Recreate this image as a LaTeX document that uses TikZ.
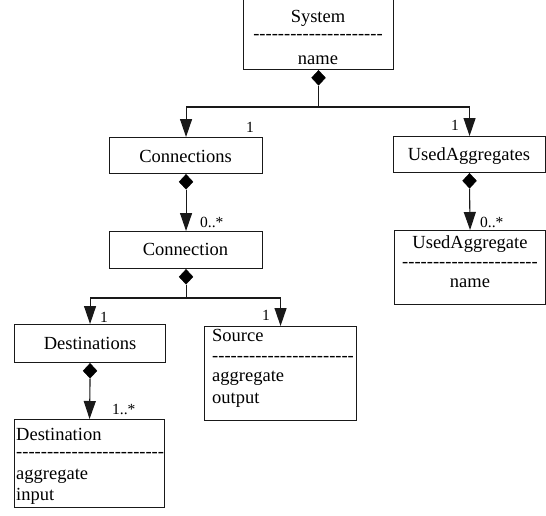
\documentclass[tikz,border=0pt]{standalone}
\usepackage{fontspec}
\setmainfont{Liberation Serif}
\usetikzlibrary{arrows.meta,shapes.geometric}
\newcommand{\hyrow}[1]{\foreach \k in {1,...,#1}{-\kern0pt}}
\begin{document}
\begin{tikzpicture}[x=1pt,y=-1pt,
  box/.style={draw=black!90, line width=1.1pt, inner sep=0pt, anchor=north west, fill=white},
  dia/.style={diamond, fill=black, draw=black, line width=0.4pt, inner sep=0pt, minimum width=14pt, minimum height=15pt, anchor=north},
  link/.style={draw=black!90, line width=1.1pt},
  arr/.style={link, -{Triangle[length=18pt,width=12pt]}},
  txt/.style={inner sep=0pt, font=\fontsize{18.5}{20}\selectfont, anchor=base},
  txtl/.style={txt, anchor=base west},
  lbl/.style={inner sep=0pt, font=\fontsize{15.5}{17}\selectfont, anchor=base},
  lbll/.style={lbl, anchor=base west}]
\useasboundingbox (0,0) rectangle (546,515);
\fill[white] (0,0) rectangle (546,515);
% boxes
\node[box, minimum width=150pt, minimum height=74pt] (sys) at (243,-5) {};
\node[box, minimum width=153pt, minimum height=36pt] (conns) at (109,137) {};
\node[box, minimum width=153pt, minimum height=37pt] (conn) at (109,231) {};
\node[box, minimum width=152pt, minimum height=36pt] (uaggs) at (393,136) {};
\node[box, minimum width=151pt, minimum height=74pt] (uagg) at (394,230) {};
\node[box, minimum width=151pt, minimum height=38pt] (dests) at (14,324) {};
\node[box, minimum width=152pt, minimum height=94pt] (src) at (204,326) {};
\node[box, minimum width=150pt, minimum height=88pt] (dest) at (14,419) {};
% diamonds
\node[dia] (dsys) at (sys.south) {};
\node[dia] (dconns) at (conns.south) {};
\node[dia] (dconn) at (conn.south) {};
\node[dia] (duaggs) at (uaggs.south) {};
\node[dia] (ddests) at (dests.south) {};
% junctions
\coordinate (j1) at (dsys.south |- 0,107);
\coordinate (j2) at (dconn.south |- 0,298);
% connectors
\draw[link] (dsys.south) -- (j1);
\draw[arr] (j1) -| (conns.north);
\draw[arr] (j1) -| (uaggs.north);
\draw[arr] (dconns.south) -- (conn.north);
\draw[arr] (duaggs.south) -- (uagg.north);
\draw[link] (dconn.south) -- (j2);
\draw[arr] (j2) -| (dests.north);
\draw[arr] (j2) -| (src.north);
\draw[arr] (ddests.south) -- (dest.north);
% texts
\node[txt] (t1) at (318,22) {System};
\node[txt] (t2) at (318,39.5) {\hyrow{21}};
\node[txt] (t3) at (318,64) {name};
\node[txt] (t4) at (185.5,162) {Connections};
\node[txt] (t5) at (185.5,255) {Connection};
\node[txt] (t6) at (469,160) {UsedAggregates};
\node[txt] (t7) at (470,248) {UsedAggregate};
\node[txt] (t8) at (470,267) {\hyrow{22}};
\node[txt] (t9) at (470,287) {name};
\node[txt] (t10) at (90,349) {Destinations};
\node[txtl] (t11) at (212,341) {Source};
\node[txtl] (t12) at (212,361.5) {\hyrow{23}};
\node[txtl] (t13) at (212,381.5) {aggregate};
\node[txtl] (t14) at (212,403) {output};
\node[txtl] (t15) at (16,440) {Destination};
\node[txtl] (t16) at (16,457.5) {\hyrow{24}};
\node[txtl] (t17) at (16,479) {aggregate};
\node[txtl] (t18) at (16,500) {input};
% multiplicities
\node[lbl] (m1) at (250,132) {1};
\node[lbl] (m2) at (455,130) {1};
\node[lbll] (m3) at (200,227) {0..*};
\node[lbll] (m4) at (480,227) {0..*};
\node[lbl] (m5) at (104,322) {1};
\node[lbl] (m6) at (266,320) {1};
\node[lbll] (m7) at (112,414) {1..*};
\end{tikzpicture}
\end{document}
